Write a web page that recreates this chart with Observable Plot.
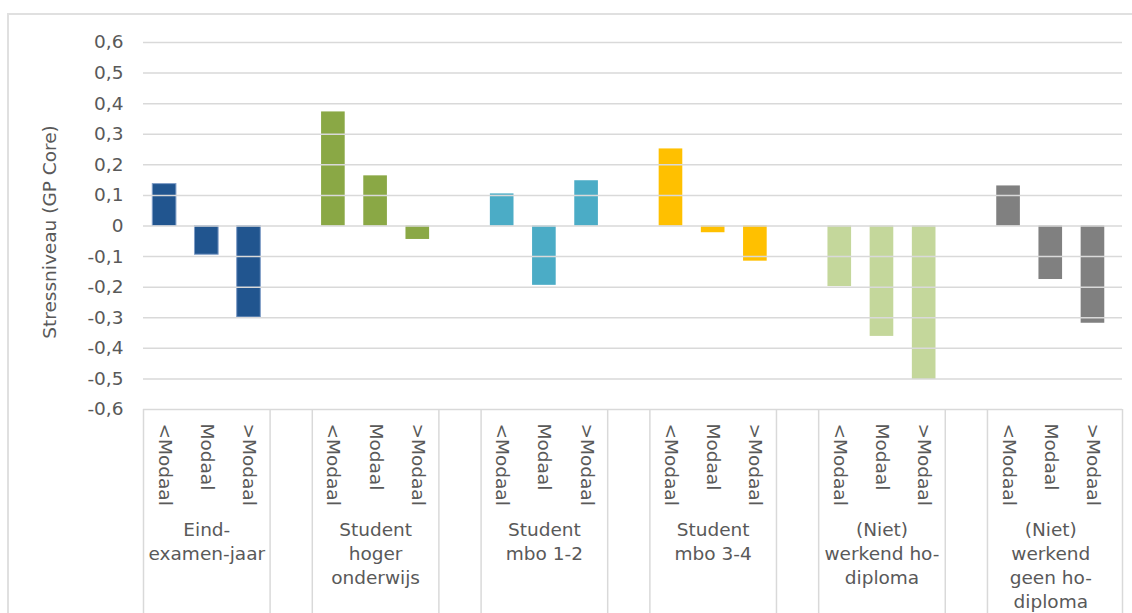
<!DOCTYPE html>
<html>
<head>
<meta charset="utf-8">
<script src="https://cdn.jsdelivr.net/npm/d3@7"></script>
<script src="https://cdn.jsdelivr.net/npm/@observablehq/plot@0.6"></script>
<style>
  html, body { margin: 0; padding: 0; background: #fff; }
  #wrap { position: relative; width: 1132px; height: 613px; overflow: hidden; }
  #border { position: absolute; left: 7px; top: 13px; width: 1200px; height: 700px;
            border-left: 2px solid #e0e0e0; border-top: 2px solid #e0e0e0; }
  #chart { position: absolute; left: 0; top: 0; }
</style>
</head>
<body>
<div id="wrap"><div id="border"></div><div id="chart"></div></div>
<script>
// ---- data ----
const groups = [
  "Eind-\nexamen-jaar",
  "Student\nhoger\nonderwijs",
  "Student\nmbo 1-2",
  "Student\nmbo 3-4",
  "(Niet)\nwerkend ho-\ndiploma",
  "(Niet)\nwerkend\ngeen ho-\ndiploma"
];
const incomes = ["<Modaal", "Modaal", ">Modaal"];
const eindexamen   = [0.137, -0.094, -0.299];
const hogerOnderw  = [0.373, 0.164, -0.044];
const mbo12        = [0.105, -0.194, 0.148];
const mbo34        = [0.252, -0.022, -0.115];
const werkendHo    = [-0.198, -0.361, -0.502];
const werkendGeen  = [0.131, -0.175, -0.318];
const groupColors = ["#21558F", "#8AA845", "#4BACC6", "#FFC000", "#C4D79B", "#808080"];
const yTicks = [-0.6, -0.5, -0.4, -0.3, -0.2, -0.1, 0, 0.1, 0.2, 0.3, 0.4, 0.5, 0.6];
const yTitle = "Stressniveau (GP Core)";

// ---- build table ----
const series = [eindexamen, hogerOnderw, mbo12, mbo34, werkendHo, werkendGeen];
const slotsPerGroup = incomes.length + 1; // one empty slot between groups
const rows = [];
series.forEach((vals, g) => vals.forEach((v, j) => rows.push({
  group: groups[g], income: incomes[j], value: v, color: groupColors[g],
  slot: g * slotsPerGroup + j
})));
const groupRows = groups.map((name, g) => ({name, center: g * slotsPerGroup + (incomes.length - 1) / 2}));
const lastSlot = (groups.length - 1) * slotsPerGroup + incomes.length - 1;
const xMax = lastSlot + 0.7;
const separators = [];
groups.forEach((_, g) => {
  separators.push(g * slotsPerGroup - 0.5);
  separators.push(g < groups.length - 1 ? g * slotsPerGroup + incomes.length - 0.5 : xMax);
});
const half = 0.28;
const fmt = d => d === 0 ? "0" : d.toFixed(1).replace(".", ",");
const ink = "#595959";
const grid = "#d9d9d9";

const chart = Plot.plot({
  width: 1132,
  height: 613,
  marginLeft: 143,
  marginRight: 10,
  marginTop: 42,
  marginBottom: 204,
  style: {fontFamily: "'DejaVu Sans', sans-serif", fontSize: "18.5px", color: ink, background: "transparent"},
  x: {domain: [-0.5, xMax], axis: null},
  y: {domain: [-0.6, 0.6], axis: null},
  marks: [
    Plot.rectY(rows, {
      x1: d => d.slot - half, x2: d => d.slot + half, y: "value",
      fill: "color",
      stroke: d => d.color === groupColors[0] ? "#7E9CC6" : "none",
      strokeWidth: 1
    }),
    Plot.ruleY(yTicks, {stroke: grid, strokeWidth: 1.5}),
    Plot.ruleX(separators, {y1: -0.6, y2: -1.4, stroke: grid, strokeWidth: 1.5}),
    Plot.axisY({ticks: yTicks, tickSize: 0, tickPadding: 20, tickFormat: fmt, label: null, fontSize: 18.5, fill: ink}),
    Plot.text(rows, {
      x: "slot", y: -0.6, text: "income", rotate: 90, textAnchor: "start",
      lineAnchor: "middle", dy: 14, fill: ink, fontSize: 18.5
    }),
    Plot.text(groupRows, {
      x: "center", y: -0.6, text: "name", lineAnchor: "top", dy: 110,
      lineHeight: 1.29, fill: ink, fontSize: 18.5
    }),
    Plot.text([yTitle], {
      frameAnchor: "left", dx: -93, dy: 6, rotate: -90, textAnchor: "middle",
      fill: ink, fontSize: 18.5
    })
  ]
});
document.getElementById("chart").appendChild(chart);
</script>
</body>
</html>
